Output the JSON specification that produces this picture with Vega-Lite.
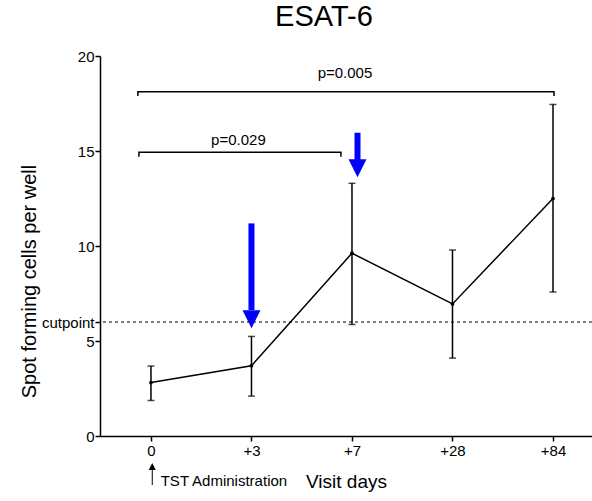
{
  "$schema": "https://vega.github.io/schema/vega-lite/v6.json",
  "width": 492,
  "height": 380,
  "autosize": "none",
  "padding": {"left": 100, "top": 56, "right": 0, "bottom": 65},
  "background": "white",
  "config": {
    "font": "Liberation Sans",
    "view": {"stroke": null},
    "axis": {"grid": false, "domainColor": "black", "domainWidth": 1.5, "tickColor": "black", "tickWidth": 1.5, "labelColor": "black", "titleColor": "black", "labelFontSize": 15, "labelOverlap": false, "titleFontWeight": "normal"}
  },
  "title": {"text": "ESAT-6", "fontSize": 29, "fontWeight": "normal", "anchor": "middle", "dx": -22, "offset": 17, "color": "black"},
  "datasets": {
    "visits": [
      {"day": "0", "idx": 0, "mean": 2.81, "lo": 1.87, "hi": 3.68},
      {"day": "+3", "idx": 1, "mean": 3.7, "lo": 2.1, "hi": 5.24},
      {"day": "+7", "idx": 2, "mean": 9.62, "lo": 5.87, "hi": 13.3},
      {"day": "+28", "idx": 3, "mean": 6.95, "lo": 4.1, "hi": 9.79},
      {"day": "+84", "idx": 4, "mean": 12.5, "lo": 7.58, "hi": 17.45}
    ],
    "cut": [{"name": "cutpoint", "value": 6}],
    "arrows": [
      {"idx": 1.0, "top": 11.19, "base": 6.63, "head": 6.14},
      {"idx": 2.055, "top": 15.96, "base": 14.53, "head": 14.09}
    ],
    "brackets": [
      {"b": "a", "ord": 1, "idx": -0.12, "y": 14.7},
      {"b": "a", "ord": 2, "idx": -0.12, "y": 14.93},
      {"b": "a", "ord": 3, "idx": 1.89, "y": 14.93},
      {"b": "a", "ord": 4, "idx": 1.89, "y": 14.7},
      {"b": "b", "ord": 1, "idx": -0.13, "y": 17.9},
      {"b": "b", "ord": 2, "idx": -0.13, "y": 18.12},
      {"b": "b", "ord": 3, "idx": 4.01, "y": 18.12},
      {"b": "b", "ord": 4, "idx": 4.01, "y": 17.9}
    ],
    "plabels": [
      {"label": "p=0.029", "idx": 0.87, "y": 15.3},
      {"label": "p=0.005", "idx": 1.93, "y": 18.84}
    ],
    "tst": [
      {"label": "TST Administration", "idx": 0.013, "text_idx": 0.097, "text_y": -2.63, "shaft_lo": -2.58, "shaft_hi": -1.75, "head": -1.61}
    ]
  },
  "layer": [
    {
      "data": {"name": "visits"},
      "mark": {"type": "line", "color": "black", "strokeWidth": 1.5},
      "encoding": {
        "x": {
          "field": "idx", "type": "quantitative",
          "scale": {"domain": [-0.507, 4.388], "nice": false, "zero": false},
          "axis": {"values": [0, 1, 2, 3, 4], "labelExpr": "['0','+3','+7','+28','+84'][datum.value]", "title": "Visit days", "tickSize": 5, "labelPadding": 2, "titleFontSize": 19, "titleBaseline": "alphabetic", "titleY": 51, "labelFlush": false}
        },
        "y": {
          "field": "mean", "type": "quantitative",
          "scale": {"domain": [0, 20], "nice": false},
          "axis": {"values": [0, 5, 6, 10, 15, 20], "labelExpr": "datum.value == 6 ? 'cutpoint' : datum.label", "title": "Spot forming cells per well", "tickSize": 5, "labelPadding": 1, "titleFontSize": 20, "titleX": -65, "titleY": 225, "titleAngle": -90, "titleBaseline": "alphabetic", "titleAlign": "center", "labelFlush": false}
        }
      }
    },
    {
      "data": {"name": "cut"},
      "mark": {"type": "rule", "color": "black", "strokeWidth": 1.2, "strokeDash": [3, 3]},
      "encoding": {"y": {"field": "value", "type": "quantitative", "title": "Spot forming cells per well"}}
    },
    {
      "data": {"name": "visits"},
      "mark": {"type": "rule", "color": "black", "strokeWidth": 1.5},
      "encoding": {
        "x": {"field": "idx", "type": "quantitative"},
        "y": {"field": "lo", "type": "quantitative", "title": "Spot forming cells per well"},
        "y2": {"field": "hi"}
      }
    },
    {
      "data": {"name": "visits"},
      "mark": {"type": "tick", "orient": "horizontal", "color": "black", "size": 7, "thickness": 1.5},
      "encoding": {
        "x": {"field": "idx", "type": "quantitative"},
        "y": {"field": "lo", "type": "quantitative", "title": "Spot forming cells per well"}
      }
    },
    {
      "data": {"name": "visits"},
      "mark": {"type": "tick", "orient": "horizontal", "color": "black", "size": 7, "thickness": 1.5},
      "encoding": {
        "x": {"field": "idx", "type": "quantitative"},
        "y": {"field": "hi", "type": "quantitative", "title": "Spot forming cells per well"}
      }
    },
    {
      "data": {"name": "visits"},
      "mark": {"type": "circle", "color": "black", "size": 14, "opacity": 1},
      "encoding": {
        "x": {"field": "idx", "type": "quantitative"},
        "y": {"field": "mean", "type": "quantitative", "title": "Spot forming cells per well"}
      }
    },
    {
      "data": {"name": "brackets"},
      "mark": {"type": "line", "color": "black", "strokeWidth": 1.5},
      "encoding": {
        "x": {"field": "idx", "type": "quantitative"},
        "y": {"field": "y", "type": "quantitative", "title": "Spot forming cells per well"},
        "detail": {"field": "b"},
        "order": {"field": "ord", "type": "quantitative"}
      }
    },
    {
      "data": {"name": "plabels"},
      "mark": {"type": "text", "color": "black", "fontSize": 15, "align": "center", "baseline": "alphabetic"},
      "encoding": {
        "x": {"field": "idx", "type": "quantitative"},
        "y": {"field": "y", "type": "quantitative", "title": "Spot forming cells per well"},
        "text": {"field": "label"}
      }
    },
    {
      "data": {"name": "arrows"},
      "mark": {"type": "rule", "color": "#0000ff", "strokeWidth": 6},
      "encoding": {
        "x": {"field": "idx", "type": "quantitative"},
        "y": {"field": "top", "type": "quantitative", "title": "Spot forming cells per well"},
        "y2": {"field": "base"}
      }
    },
    {
      "data": {"name": "arrows"},
      "mark": {"type": "point", "shape": "M-1,-1L1,-1L0,1Z", "filled": true, "color": "#0000ff", "size": 324, "opacity": 1, "strokeWidth": 0},
      "encoding": {
        "x": {"field": "idx", "type": "quantitative"},
        "y": {"field": "head", "type": "quantitative", "title": "Spot forming cells per well"}
      }
    },
    {
      "data": {"name": "tst"},
      "mark": {"type": "rule", "color": "black", "strokeWidth": 1},
      "encoding": {
        "x": {"field": "idx", "type": "quantitative"},
        "y": {"field": "shaft_lo", "type": "quantitative", "title": "Spot forming cells per well"},
        "y2": {"field": "shaft_hi"}
      }
    },
    {
      "data": {"name": "tst"},
      "mark": {"type": "point", "shape": "M0,-1L1,1L-1,1Z", "filled": true, "color": "black", "size": 49, "opacity": 1, "strokeWidth": 0},
      "encoding": {
        "x": {"field": "idx", "type": "quantitative"},
        "y": {"field": "head", "type": "quantitative", "title": "Spot forming cells per well"}
      }
    },
    {
      "data": {"name": "tst"},
      "mark": {"type": "text", "color": "black", "fontSize": 15, "align": "left", "baseline": "alphabetic"},
      "encoding": {
        "x": {"field": "text_idx", "type": "quantitative"},
        "y": {"field": "text_y", "type": "quantitative", "title": "Spot forming cells per well"},
        "text": {"field": "label"}
      }
    }
  ]
}
